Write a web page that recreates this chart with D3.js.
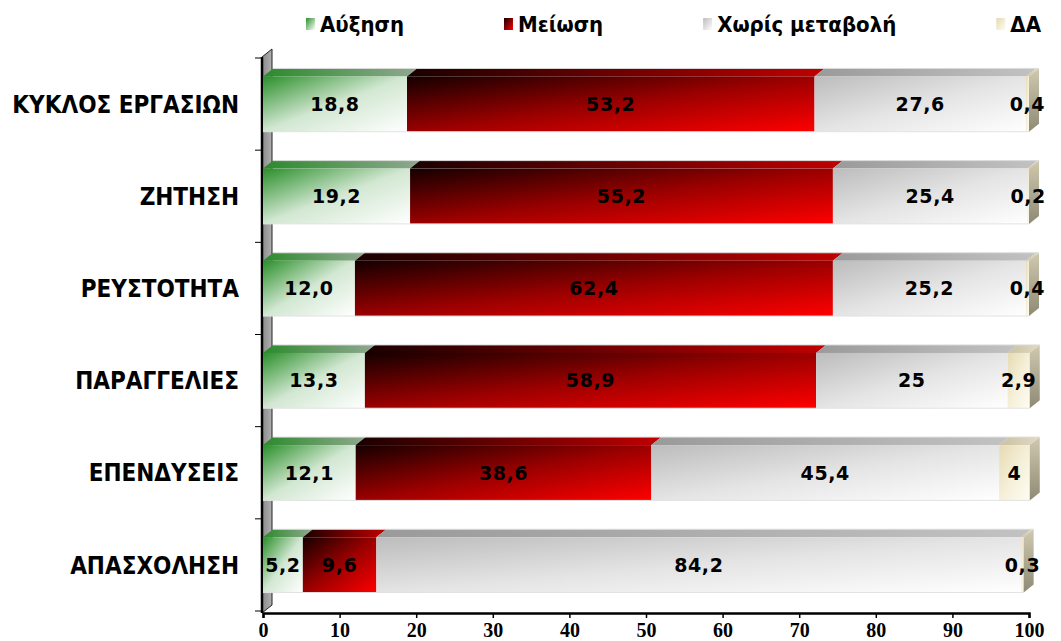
<!DOCTYPE html>
<html>
<head>
<meta charset="utf-8">
<script src="https://cdn.jsdelivr.net/npm/d3@7"></script>
<style>
  body { margin: 0; background: #fff; }
  .cat { font-family: "DejaVu Sans Condensed", "DejaVu Sans", sans-serif; font-stretch: condensed; font-weight: bold; font-size: 24px; }
  .leg { font-family: "DejaVu Sans Condensed", "DejaVu Sans", sans-serif; font-stretch: condensed; font-weight: bold; font-size: 22px; }
  .val { font-family: "DejaVu Sans", sans-serif; font-weight: bold; font-size: 19px; letter-spacing: 0.6px; }
  .xt { font-family: "Liberation Serif", "Times New Roman", serif; font-weight: bold; font-size: 20px; }
</style>
</head>
<body>
<div id="chart"></div>
<script>
// data
var categories = ["ΚΥΚΛΟΣ ΕΡΓΑΣΙΩΝ", "ΖΗΤΗΣΗ", "ΡΕΥΣΤΟΤΗΤΑ", "ΠΑΡΑΓΓΕΛΙΕΣ", "ΕΠΕΝΔΥΣΕΙΣ", "ΑΠΑΣΧΟΛΗΣΗ"];
var seriesNames = ["Αύξηση", "Μείωση", "Χωρίς μεταβολή", "ΔΑ"];
var auxisi = ["18,8", "19,2", "12,0", "13,3", "12,1", "5,2"];
var meiosi = ["53,2", "55,2", "62,4", "58,9", "38,6", "9,6"];
var xoris = ["27,6", "25,4", "25,2", "25", "45,4", "84,2"];
var da = ["0,4", "0,2", "0,4", "2,9", "4", "0,3"];
var xTicks = [0, 10, 20, 30, 40, 50, 60, 70, 80, 90, 100];

var W = 1061, H = 641;
var margin = { top: 58, right: 32, bottom: 30, left: 263 };
var depthX = 10, depthY = 8;

var svg = d3.select("#chart").append("svg")
  .attr("width", W)
  .attr("height", H);

var defs = svg.append("defs");

// colours of each series: front face, top face
var styles = [
  { front: ["#2a8f2a", "#d2e7d2", "#ffffff"], top: ["#2c8a2c", "#8fa88f"] },
  { front: ["#140000", "#9a0000", "#ff0000"], top: ["#1a0000", "#c00000"] },
  { front: ["#bcbcbc", "#e4e4e4", "#ffffff"], top: ["#9a9a9a", "#c2c2c2"] },
  { front: ["#e6dab2", "#f5efd8", "#fffdf2"], top: ["#c9c1a2", "#e2dac2"] }
];

styles.forEach(function (s, i) {
  var g = defs.append("linearGradient").attr("id", "front" + i)
    .attr("x1", 0).attr("y1", 0).attr("x2", 1).attr("y2", 1);
  g.append("stop").attr("offset", "0%").attr("stop-color", s.front[0]);
  g.append("stop").attr("offset", "50%").attr("stop-color", s.front[1]);
  g.append("stop").attr("offset", "100%").attr("stop-color", s.front[2]);
  var t = defs.append("linearGradient").attr("id", "top" + i)
    .attr("x1", 0).attr("y1", 0).attr("x2", 1).attr("y2", 0);
  t.append("stop").attr("offset", "0%").attr("stop-color", s.top[0]);
  t.append("stop").attr("offset", "100%").attr("stop-color", s.top[1]);
});

var side = defs.append("linearGradient").attr("id", "side")
  .attr("x1", 0).attr("y1", 0).attr("x2", 0).attr("y2", 1);
side.append("stop").attr("offset", "0%").attr("stop-color", "#cfc9b0");
side.append("stop").attr("offset", "100%").attr("stop-color", "#8f8a74");

var wallG = defs.append("linearGradient").attr("id", "wall")
  .attr("x1", 0).attr("y1", 0).attr("x2", 1).attr("y2", 0);
wallG.append("stop").attr("offset", "0%").attr("stop-color", "#8a8a8a");
wallG.append("stop").attr("offset", "100%").attr("stop-color", "#b0b0b0");

var parse = function (s) { return +s.replace(",", "."); };

// build rows from the arrays
var rows = categories.map(function (c, i) {
  var labels = [auxisi[i], meiosi[i], xoris[i], da[i]];
  var x0 = 0;
  var segs = labels.map(function (l, k) {
    var v = parse(l);
    var seg = { key: k, label: l, x0: x0, x1: x0 + v };
    x0 += v;
    return seg;
  });
  return { cat: c, segs: segs };
});

var x = d3.scaleLinear().domain([0, 100]).range([margin.left, W - margin.right]);
var y = d3.scaleBand().domain(categories)
  .range([margin.top, H - margin.bottom])
  .paddingInner(0.4).paddingOuter(0.2);

var axisY = H - margin.bottom + 2;

// side wall
var wallTop = margin.top - 1, wallBot = axisY;
svg.append("path")
  .attr("d", "M" + (x(0) - 1) + "," + wallBot +
    "L" + (x(0) - 1 + depthX) + "," + (wallBot - depthY) +
    "L" + (x(0) - 1 + depthX) + "," + (wallTop - depthY) +
    "L" + (x(0) - 1) + "," + wallTop + "Z")
  .attr("fill", "url(#wall)")
  .attr("stroke", "#222")
  .attr("stroke-width", 1);
svg.append("line")
  .attr("x1", x(0) - 1).attr("x2", x(0) - 1)
  .attr("y1", wallTop).attr("y2", wallBot)
  .attr("stroke", "#000").attr("stroke-width", 2.5);

// category ticks at band edges
var step = y.step();
d3.range(categories.length + 1).forEach(function (i) {
  var yy = margin.top + i * step;
  svg.append("line")
    .attr("x1", x(0) - 8).attr("x2", x(0) - 1)
    .attr("y1", yy).attr("y2", yy)
    .attr("stroke", "#000").attr("stroke-width", 1);
});

// x axis
var xAxis = svg.append("g")
  .attr("transform", "translate(0," + axisY + ")")
  .call(d3.axisBottom(x).tickValues(xTicks).tickSize(5).tickPadding(5));
xAxis.select(".domain").attr("stroke", "#000").attr("stroke-width", 2.5);
xAxis.selectAll(".tick line").attr("stroke", "#000").attr("stroke-width", 1.5);
xAxis.selectAll(".tick text").attr("class", "xt").attr("fill", "#000")
  .attr("font-family", null).attr("font-size", null);

// bars
var rowG = svg.selectAll(".row").data(rows).enter().append("g").attr("class", "row");

rowG.each(function (r) {
  var g = d3.select(this);
  var y0 = y(r.cat), bh = y.bandwidth();
  r.segs.forEach(function (s) {
    var a = x(s.x0), b = x(s.x1);
    // top face
    g.append("path")
      .attr("d", "M" + a + "," + y0 + "L" + (a + depthX) + "," + (y0 - depthY) +
        "L" + (b + depthX) + "," + (y0 - depthY) + "L" + b + "," + y0 + "Z")
      .attr("fill", "url(#top" + s.key + ")");
    // front face
    g.append("rect")
      .attr("x", a).attr("y", y0)
      .attr("width", Math.max(0, b - a)).attr("height", bh)
      .attr("fill", "url(#front" + s.key + ")");
  });
  var last = r.segs[r.segs.length - 1];
  var e = x(last.x1);
  g.append("path")
    .attr("d", "M" + e + "," + y0 + "L" + (e + depthX) + "," + (y0 - depthY) +
      "L" + (e + depthX) + "," + (y0 + bh - depthY) + "L" + e + "," + (y0 + bh) + "Z")
    .attr("fill", "url(#side)");
  // thin light edges
  g.append("line")
    .attr("x1", x(0)).attr("x2", e).attr("y1", y0 + bh).attr("y2", y0 + bh)
    .attr("stroke", "#e2e2e2").attr("stroke-width", 1);
  g.append("line")
    .attr("x1", x(0) + depthX).attr("x2", e + depthX).attr("y1", y0 - depthY).attr("y2", y0 - depthY)
    .attr("stroke", "#dcdcdc").attr("stroke-width", 1);

  // value labels
  r.segs.forEach(function (s) {
    g.append("text")
      .attr("class", "val")
      .attr("x", (x(s.x0) + x(s.x1)) / 2)
      .attr("y", y0 + bh / 2)
      .attr("dy", "0.36em")
      .attr("text-anchor", "middle")
      .text(s.label);
  });

  // category label
  g.append("text")
    .attr("class", "cat")
    .attr("x", margin.left - 24)
    .attr("y", y0 + bh / 2)
    .attr("dy", "0.36em")
    .attr("text-anchor", "end")
    .text(r.cat);
});

// legend
var legG = svg.append("g").attr("transform", "translate(306,0)");
var lx = 0;
seriesNames.forEach(function (n, i) {
  var item = legG.append("g").attr("transform", "translate(" + lx + ",0)");
  var lg = defs.append("linearGradient").attr("id", "leg" + i)
    .attr("x1", 0).attr("y1", 0).attr("x2", 1).attr("y2", 1);
  lg.append("stop").attr("offset", "0%").attr("stop-color", styles[i].front[0]);
  lg.append("stop").attr("offset", "100%").attr("stop-color", styles[i].front[2]);
  item.append("rect")
    .attr("x", 0).attr("y", 18).attr("width", 9).attr("height", 12)
    .attr("fill", "url(#leg" + i + ")");
  var t = item.append("text")
    .attr("class", "leg")
    .attr("x", 14).attr("y", 32)
    .text(n);
  lx += 14 + t.node().getComputedTextLength() + 100;
});
</script>
</body>
</html>
